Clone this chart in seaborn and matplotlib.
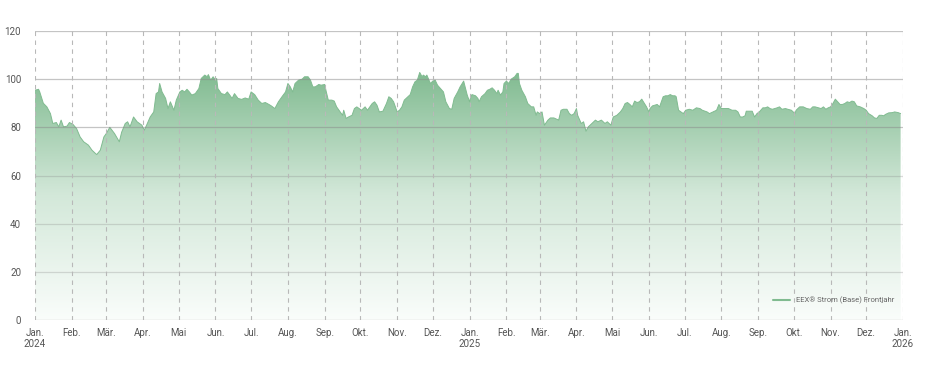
import numpy as np
import pandas as pd
import matplotlib
matplotlib.use("Agg")
import matplotlib.pyplot as plt
import matplotlib.dates as mdates
from matplotlib.colors import LinearSegmentedColormap
from matplotlib.patches import PathPatch
import seaborn as sns

# Days since 2024-01-01 and price values (EUR/MWh)
day_offsets = [
    0, 3, 4, 7, 10, 13, 15, 18, 20, 22, 24, 27, 29, 32, 35, 38, 41, 45, 48, 51,
    52, 55, 58, 60, 63, 67, 71, 73, 76, 78, 80, 83, 86, 90, 92, 94, 97, 100, 102, 104,
    105, 107, 110, 112, 114, 117, 119, 122,
    124, 126, 128, 130, 132, 135, 138, 140, 143, 145, 146, 148, 150, 152, 153, 154, 157, 160,
    162, 164, 166, 168, 171, 174, 177, 180, 182, 185, 188, 191, 194, 197, 199, 202, 205, 208,
    211, 213, 215, 217, 219, 222, 225, 227, 230, 232, 234, 236, 239, 241, 244,
    245, 247, 250, 252, 254, 257, 259, 260, 262, 264, 267, 269, 271, 273, 275, 278, 280, 282,
    284, 286, 288, 290, 293, 296, 298, 300, 302, 305, 307, 309, 311, 314, 316, 318, 320, 322,
    324, 326, 327, 329, 330, 333, 335, 337, 339, 341, 344, 346, 349, 351, 353, 356, 358, 361,
    364, 366,
    367, 368, 371, 373, 374, 376, 379, 381, 383, 385, 387, 389, 390, 392, 394, 395, 397, 399,
    401, 404, 406, 407, 408, 410, 413, 415, 418, 420, 422, 423, 425, 427, 429, 432, 434, 437,
    441, 443, 445, 448, 450, 452, 454, 456, 457, 460, 462, 464, 466, 469, 472, 474, 477, 480,
    482, 485, 487,
    490, 493, 495, 497, 499, 501, 503, 505, 507, 509, 511, 512, 515, 517, 518, 520, 522, 524,
    526, 529, 531, 533, 535, 537, 539, 540, 542, 544, 546, 548, 551, 554, 557, 560, 562, 566,
    568, 571, 574, 576, 578, 581, 584, 587, 590, 592, 594, 596, 598, 599, 602, 604, 606, 608,
    610,
    613, 615, 617, 619, 621, 623, 625, 627, 629, 632, 634, 637, 640, 641, 644, 647, 650, 653,
    655, 657, 660, 662, 664, 666, 668, 670, 672, 674, 676, 678, 680, 682, 684, 686, 688, 690,
    692, 695, 698, 700, 702, 705, 707, 709, 711, 713, 715, 716, 719, 722, 724, 727, 729,
]
prices = [
    95.4, 95.8, 94.7, 90.0, 88.5, 85.7, 81.6, 82.0, 80.2, 83.0, 80.2, 80.5, 82.0, 81.2, 79.5, 76.0, 74.0, 72.6, 70.5, 69.1,
    68.7, 70.5, 76.0, 77.4, 80.0, 77.4, 74.0, 78.0, 81.6, 82.3, 80.2, 84.3, 82.3, 80.9, 78.8, 80.9, 84.3, 86.4, 94.0, 94.7,
    98.2, 94.7, 92.0, 87.8, 90.6, 87.1, 91.3, 94.7,
    95.4, 94.7, 95.8, 94.7, 93.4, 94.0, 96.1, 100.3, 101.7, 101.0, 101.9, 99.6, 101.0, 99.6, 100.3, 96.1, 94.0, 93.6,
    94.7, 93.4, 92.0, 94.0, 92.0, 91.6, 92.2, 91.7, 94.7, 93.6, 91.3, 89.9, 90.3, 89.5, 88.9, 87.8, 90.6, 92.7,
    94.7, 98.2, 96.8, 94.7, 98.2, 99.6, 100.0, 101.0, 101.0, 99.6, 96.8, 96.8, 97.8, 97.5, 97.8,
    95.4, 91.3, 91.3, 90.9, 88.5, 86.4, 85.0, 87.1, 83.7, 84.3, 85.0, 87.8, 88.5, 87.8, 87.1, 88.5, 87.1, 88.5,
    89.9, 90.6, 89.2, 86.4, 86.7, 89.9, 92.7, 92.0, 90.6, 86.4, 87.1, 88.5, 91.3, 92.7, 93.6, 96.8, 98.9, 99.6,
    102.8, 101.0, 101.7, 101.0, 101.7, 98.2, 99.2, 99.6, 97.5, 96.4, 94.7, 90.6, 87.8, 87.5, 92.0, 94.7, 96.8, 99.2,
    93.4, 90.6,
    92.7, 93.6, 93.1, 92.0, 90.6, 92.7, 94.0, 95.4, 95.8, 96.4, 95.4, 94.0, 95.4, 93.4, 94.7, 98.2, 99.2, 98.2,
    100.0, 101.0, 102.4, 102.4, 98.2, 95.4, 92.7, 89.9, 88.5, 88.5, 85.0, 86.4, 85.7, 86.4, 80.9, 83.0, 83.9, 83.9,
    83.0, 87.1, 87.5, 87.5, 85.7, 85.0, 85.7, 87.8, 85.0, 81.6, 82.3, 78.4, 80.2, 81.6, 83.0, 82.3, 83.0, 81.6,
    82.3, 80.9, 84.3,
    85.0, 86.4, 87.8, 89.9, 90.3, 89.5, 88.5, 90.9, 90.3, 90.6, 91.7, 90.9, 88.5, 86.4, 87.8, 88.9, 89.2, 89.5,
    88.5, 92.7, 93.1, 93.1, 93.6, 93.1, 93.1, 92.7, 87.1, 86.4, 85.7, 87.1, 87.5, 87.1, 88.1, 87.8, 87.1, 86.4,
    85.7, 86.4, 87.1, 89.5, 87.8, 87.8, 87.8, 87.1, 87.1, 86.4, 84.3, 84.3, 84.8, 86.7, 86.7, 86.7, 84.3, 85.7,
    86.4,
    88.1, 88.1, 88.5, 87.8, 87.5, 87.8, 88.1, 88.5, 87.5, 87.8, 87.5, 87.1, 85.7, 87.1, 88.5, 88.5, 87.8, 87.5,
    88.5, 88.5, 88.1, 87.8, 88.5, 87.5, 88.1, 88.5, 89.9, 91.7, 90.6, 89.5, 89.5, 89.9, 90.6, 90.3, 90.9, 90.6,
    88.9, 88.5, 87.8, 87.1, 85.7, 84.8, 83.9, 83.7, 85.0, 85.0, 84.8, 85.3, 86.0, 86.1, 86.4, 86.1, 85.7,
]
month_names = ["Jan.", "Feb.", "Mär.", "Apr.", "Mai", "Jun.", "Jul.", "Aug.",
               "Sep.", "Okt.", "Nov.", "Dez."]
y_ticks = [0, 20, 40, 60, 80, 100, 120]
series_label = "EEX® Strom (Base) Frontjahr"

start = pd.Timestamp("2024-01-01")
df = pd.DataFrame({
    "date": start + pd.to_timedelta(day_offsets, unit="D"),
    "price": prices,
})

sns.set_style("white")
plt.rcParams["font.family"] = ["Roboto", "DejaVu Sans"]

fig = plt.figure(figsize=(9.3, 3.7), dpi=100)
ax = fig.add_axes([35 / 930, 50 / 370, (903 - 35) / 930, 289 / 370])

x_start = pd.Timestamp("2024-01-01")
x_end = pd.Timestamp("2026-01-01")

# gradient fill under the curve
xnum = mdates.date2num(df["date"])
poly = ax.fill_between(xnum, 0, df["price"].values, facecolor="none", edgecolor="none")
clip = PathPatch(poly.get_paths()[0], transform=ax.transData, facecolor="none", edgecolor="none")
ax.add_patch(clip)
cmap = LinearSegmentedColormap.from_list("g", ["#fafdfb", "#d3e8d9", "#7fba8f"])
grad = np.linspace(0, 1, 256).reshape(-1, 1)
im = ax.imshow(grad, extent=[xnum[0], xnum[-1], 0, 104], origin="lower",
               aspect="auto", cmap=cmap, zorder=1, interpolation="bicubic")
im.set_clip_path(clip)

sns.lineplot(data=df, x="date", y="price", ax=ax, color="#80bb90", lw=0.7,
             zorder=2, label=series_label)

# grid lines
for yv in y_ticks:
    a = 0.5 if yv in (80, 100, 120, 0) else 0.3
    ax.axhline(yv, color="#8a8a8a", alpha=a, lw=0.9, zorder=3)
months = pd.date_range(x_start, x_end, freq="MS")
for m in months:
    ax.axvline(mdates.date2num(m), color="#b8b8b8", lw=0.8, ls=(0, (4, 4)), zorder=3)

ax.set_xlim(mdates.date2num(x_start), mdates.date2num(x_end))
ax.set_ylim(0, 120)
ax.set_yticks(y_ticks)
ax.set_xticks(mdates.date2num(months))
labels = []
for m in months:
    lab = month_names[m.month - 1]
    if m.month == 1:
        lab += "\n" + str(m.year)
    labels.append(lab)
ax.set_xticklabels(labels, ha="center", va="top", linespacing=1.05)
ax.tick_params(axis="x", length=4, color="#c8c8c8", width=0.8, pad=2,
               labelsize=7, labelcolor="#555555")
ax.tick_params(axis="y", length=0, pad=10, labelsize=7, labelcolor="#555555")
for s in ax.spines.values():
    s.set_visible(False)
ax.set_xlabel("")
ax.set_ylabel("")

leg = ax.legend(loc="lower right", bbox_to_anchor=(0.998, 0.03), frameon=False,
                fontsize=5.5, handlelength=2.2, handletextpad=0.8)
for t in leg.get_texts():
    t.set_color("#666666")
for ln in leg.get_lines():
    ln.set_linewidth(1.5)
    ln.set_color("#80bb90")

fig.savefig("out.png", dpi=100)
